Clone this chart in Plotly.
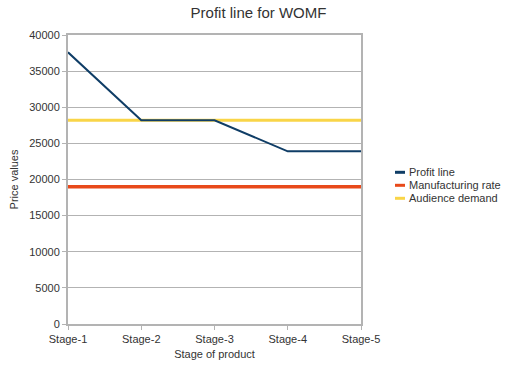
import plotly.graph_objects as go

stages = ["Stage-1", "Stage-2", "Stage-3", "Stage-4", "Stage-5"]
profit_line = [37600, 28200, 28200, 23900, 23900]
manufacturing_rate = [19000, 19000, 19000, 19000, 19000]
audience_demand = [28200, 28200, 28200, 28200, 28200]

series = [
    ("Profit line", profit_line, "#0f3d66", 2),
    ("Manufacturing rate", manufacturing_rate, "#e8491a", 3.5),
    ("Audience demand", audience_demand, "#f9d548", 3),
]

fig = go.Figure()
for name, vals, color, w in [series[2], series[1], series[0]]:
    fig.add_trace(go.Scatter(x=stages, y=vals, mode="lines", name=name,
                             line=dict(color=color, width=w), showlegend=False))

# plot area at x 68..361, y 35..324
W, H = 514, 376
L, T, R, B = 68, 35, 153, 52
pw, ph = W - L - R, H - T - B

def px_x(sx):
    return (sx - L) / pw

def px_y(sy):
    return (H - B - sy) / ph

legend_y = [172.3, 185.3, 198.3]
shapes = []
annotations = []
for (name, vals, color, w), sy in zip(series, legend_y):
    shapes.append(dict(type="line", xref="paper", yref="paper",
                       x0=px_x(395), x1=px_x(405), y0=px_y(sy), y1=px_y(sy),
                       line=dict(color=color, width=3)))
    annotations.append(dict(xref="paper", yref="paper", x=px_x(407), y=px_y(sy),
                            xanchor="left", yanchor="middle", text=name,
                            showarrow=False, font=dict(size=11, color="#333333")))

fig.update_layout(
    width=W, height=H,
    margin=dict(l=L, r=R, t=T, b=B),
    paper_bgcolor="white", plot_bgcolor="white",
    font=dict(family="Liberation Sans, Arial, sans-serif", size=11, color="#333333"),
    title=dict(text="Profit line for WOMF", x=258.5 / W, xanchor="center",
               y=1 - 13 / H, yanchor="middle",
               font=dict(size=15, color="#333333")),
    shapes=shapes, annotations=annotations,
    showlegend=False,
)
fig.update_xaxes(
    title=dict(text="Stage of product", font=dict(size=11), standoff=6),
    range=[0, 4], showgrid=False, showline=True, linecolor="#b3b3b3", linewidth=2,
    mirror=True, ticks="outside", ticklen=4, tickcolor="#b3b3b3", zeroline=False,
)
fig.update_yaxes(
    title=dict(text="Price values", font=dict(size=11), standoff=8),
    range=[0, 40000], dtick=5000, tickformat="d", showgrid=True, gridcolor="#b3b3b3", gridwidth=1,
    showline=True, linecolor="#b3b3b3", linewidth=2, mirror=True,
    ticks="outside", ticklen=4, tickcolor="#b3b3b3", zeroline=False,
)
fig.write_html("out.html", config={"displayModeBar": False},
               post_script="document.body.style.margin='0';")
